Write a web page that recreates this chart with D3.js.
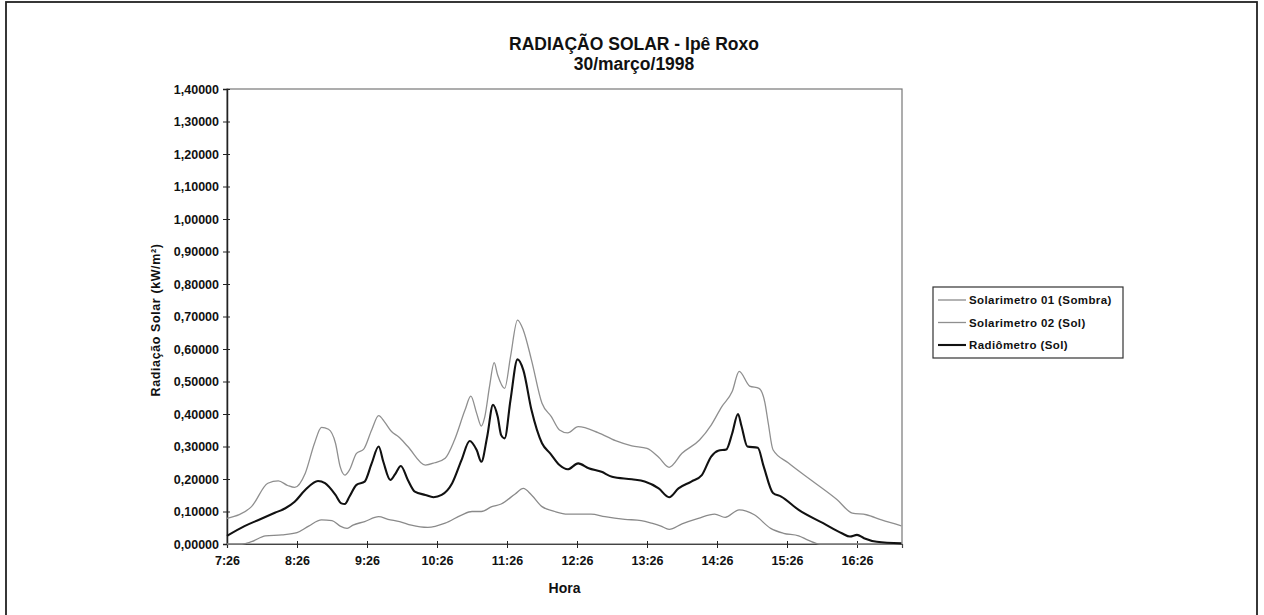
<!DOCTYPE html>
<html><head><meta charset="utf-8">
<script src="https://cdn.jsdelivr.net/npm/d3@7"></script>
<style>
body{margin:0;background:#fff;}
svg{display:block;}
text{font-family:"Liberation Sans",Arial,sans-serif;fill:#111;}
</style></head>
<body><svg id="chart" width="1264" height="615"></svg>
<script>
const titleLines = ["RADIAÇÃO SOLAR - Ipê Roxo", "30/março/1998"];
const yAxisTitle = "Radiação Solar (kW/m²)";
const xAxisTitle = "Hora";
const seriesNames = ["Solarimetro 01 (Sombra)", "Solarimetro 02 (Sol)", "Radiômetro (Sol)"];
const xTickLabels = ["7:26","8:26","9:26","10:26","11:26","12:26","13:26","14:26","15:26","16:26"];
const yTickValues = [0,0.1,0.2,0.3,0.4,0.5,0.6,0.7,0.8,0.9,1.0,1.1,1.2,1.3,1.4];

const s01Times = ["7:26","7:39","7:47","7:59","8:13","8:26","8:36","8:47","8:56","9:03","9:09","9:14","9:24","9:36","9:44","9:54","10:04","10:18","10:33","10:47","10:56","11:04","11:13","11:21","11:33","11:40","11:47","11:56","12:07","12:18","12:38","12:50","13:07","13:21","13:30","13:38","13:45","13:56","14:10","14:24","14:33","14:45","14:58","15:12","15:23","15:36","15:44","15:54","17:04"];
const s01Values = [0.0,0.0,0.007,0.025,0.028,0.035,0.055,0.074,0.072,0.055,0.048,0.058,0.069,0.084,0.076,0.069,0.058,0.051,0.064,0.089,0.100,0.100,0.115,0.123,0.154,0.171,0.151,0.115,0.100,0.092,0.092,0.084,0.076,0.072,0.064,0.055,0.045,0.062,0.079,0.092,0.082,0.105,0.090,0.048,0.033,0.025,0.012,0.0,0.0];

const s02Times = ["7:26","7:47","8:01","8:10","8:18","8:24","8:33","8:41","8:47","8:53","8:59","9:03","9:07","9:11","9:17","9:23","9:30","9:36","9:41","9:47","9:53","10:01","10:16","10:24","10:33","10:41","10:50","10:55","11:00","11:04","11:07","11:11","11:15","11:18","11:24","11:29","11:35","11:40","11:47","11:56","12:04","12:11","12:18","12:27","12:44","12:59","13:13","13:26","13:36","13:45","13:56","14:11","14:21","14:30","14:39","14:45","14:54","15:02","15:07","15:10","15:14","15:27","15:48","16:09","16:22","16:34","16:47","17:04"];
const s02Values = [0.079,0.115,0.187,0.194,0.180,0.174,0.217,0.310,0.359,0.353,0.310,0.238,0.212,0.228,0.279,0.291,0.351,0.395,0.376,0.346,0.330,0.300,0.243,0.250,0.264,0.320,0.412,0.455,0.402,0.363,0.392,0.484,0.558,0.520,0.479,0.576,0.689,0.658,0.566,0.433,0.392,0.351,0.342,0.361,0.343,0.318,0.302,0.294,0.267,0.236,0.279,0.320,0.366,0.422,0.469,0.531,0.486,0.479,0.436,0.370,0.290,0.250,0.193,0.136,0.095,0.090,0.074,0.056];

const radTimes = ["7:26","7:41","7:53","8:07","8:16","8:24","8:33","8:44","8:50","8:59","9:04","9:07","9:11","9:17","9:24","9:30","9:36","9:40","9:46","9:50","9:55","10:01","10:07","10:16","10:23","10:30","10:39","10:47","10:54","11:00","11:04","11:09","11:14","11:18","11:21","11:24","11:29","11:35","11:40","11:47","11:56","12:03","12:11","12:18","12:27","12:36","12:47","12:56","13:13","13:24","13:36","13:45","13:53","14:04","14:13","14:21","14:27","14:34","14:39","14:44","14:47","14:52","15:01","15:06","15:14","15:21","15:36","15:57","16:13","16:20","16:26","16:32","16:43","17:04"];
const radValues = [0.025,0.055,0.074,0.096,0.110,0.130,0.166,0.194,0.187,0.151,0.125,0.123,0.146,0.182,0.192,0.248,0.300,0.253,0.197,0.214,0.240,0.197,0.161,0.151,0.144,0.151,0.187,0.258,0.317,0.289,0.253,0.330,0.428,0.392,0.335,0.325,0.443,0.568,0.535,0.412,0.310,0.279,0.243,0.230,0.248,0.233,0.222,0.207,0.199,0.192,0.171,0.144,0.171,0.192,0.212,0.269,0.287,0.291,0.340,0.400,0.363,0.300,0.296,0.239,0.157,0.146,0.105,0.064,0.033,0.023,0.028,0.018,0.007,0.002];

const seriesColors = ["#8a8a8a","#8f8f8f","#111111"];
const seriesWidths = [1.3,1.3,2.1];

const toMin = s => { const [h,m] = s.split(":").map(Number); return h*60+m; };

const svg = d3.select("#chart");
const L = 227, R = 902, T = 89, B = 544;
const xStart = toMin("7:26");
const xEnd = xStart + (R-L)*60/70;
const x = d3.scaleLinear().domain([xStart, xEnd]).range([L, R]);
const y = d3.scaleLinear().domain([0, 1.4]).range([B, T]);
const FONT = "'Liberation Sans',Arial,sans-serif";

// outer chart border
svg.append("rect").attr("x",6).attr("y",2).attr("width",1251).attr("height",640)
  .attr("fill","none").attr("stroke","#222").attr("stroke-width",1.8);

// plot frame
svg.append("rect").attr("x",L).attr("y",T).attr("width",R-L).attr("height",B-T)
  .attr("fill","none").attr("stroke","#777").attr("stroke-width",1.2);

// y axis
const fmt = d3.format(".5f");
const yAxis = d3.axisLeft(y).tickValues(yTickValues).tickSize(4).tickPadding(4)
  .tickFormat(d => fmt(d).replace(".", ","));
const gy = svg.append("g").attr("transform",`translate(${L},0)`).call(yAxis);
gy.select(".domain").attr("stroke","#222").attr("stroke-width",1.5);
gy.selectAll(".tick line").attr("stroke","#222").attr("x2",-4).attr("x1",3);
gy.selectAll("text").attr("font-size","12.5px").attr("font-weight","bold")
  .attr("font-family",FONT).attr("fill","#111");

// x axis
const xTickVals = xTickLabels.map(toMin);
const xAxis = d3.axisBottom(x).tickValues(xTickVals).tickSize(4).tickPadding(8)
  .tickFormat((d,i) => xTickLabels[i]);
const gx = svg.append("g").attr("transform",`translate(0,${B})`).call(xAxis);
gx.select(".domain").attr("stroke","#444").attr("stroke-width",1.2);
gx.selectAll(".tick line").attr("stroke","#222").attr("y1",-3).attr("y2",4);
gx.selectAll("text").attr("font-size","12.5px").attr("font-weight","bold")
  .attr("font-family",FONT).attr("fill","#111");

// series
const series = [
  {times:s01Times, values:s01Values},
  {times:s02Times, values:s02Values},
  {times:radTimes, values:radValues}
];
const line = d3.line().x(d => x(d[0])).y(d => y(d[1])).curve(d3.curveMonotoneX);
series.forEach((s,i) => {
  const pts = s.times.map((t,j) => [toMin(t), s.values[j]]);
  svg.append("path").datum(pts).attr("d", line).attr("fill","none")
    .attr("stroke", seriesColors[i]).attr("stroke-width", seriesWidths[i])
    .attr("stroke-linejoin","round");
});

// titles
const cx = 634;
svg.append("text").attr("x",cx).attr("y",49.5).attr("text-anchor","middle")
  .attr("font-size","17.5px").attr("font-weight","bold").text(titleLines[0]);
svg.append("text").attr("x",cx).attr("y",70).attr("text-anchor","middle")
  .attr("font-size","17.5px").attr("font-weight","bold").text(titleLines[1]);

svg.append("text").attr("x",(L+R)/2).attr("y",593).attr("text-anchor","middle")
  .attr("font-size","14px").attr("font-weight","bold").text(xAxisTitle);

svg.append("text").attr("transform",`translate(160,320) rotate(-90)`)
  .attr("text-anchor","middle").attr("font-size","12.5px").attr("font-weight","bold")
  .attr("letter-spacing","0.6px").text(yAxisTitle);

// legend
const lg = svg.append("g");
lg.append("rect").attr("x",933).attr("y",287).attr("width",190).attr("height",71)
  .attr("fill","#fff").attr("stroke","#333").attr("stroke-width",1.2);
seriesNames.forEach((n,i) => {
  const yy = 300 + i*22.5;
  lg.append("line").attr("x1",938).attr("x2",966).attr("y1",yy).attr("y2",yy)
    .attr("stroke",seriesColors[i]).attr("stroke-width",seriesWidths[i]);
  lg.append("text").attr("x",969).attr("y",yy+4).attr("font-size","11.5px")
    .attr("font-weight","bold").attr("letter-spacing","0.4px").text(n);
});
</script></body></html>
